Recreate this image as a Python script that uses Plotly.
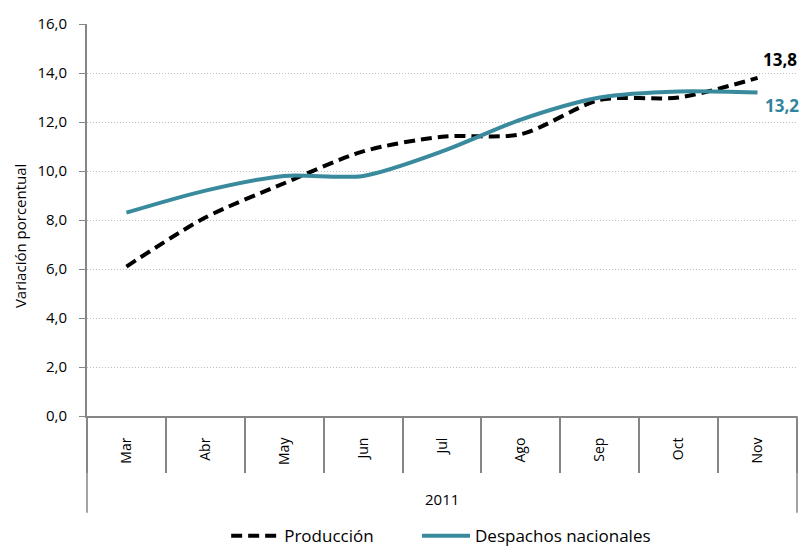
import plotly.graph_objects as go

# ---- data ----
meses = ["Mar", "Abr", "May", "Jun", "Jul", "Ago", "Sep", "Oct", "Nov"]
produccion = [6.1, 8.1, 9.5, 10.8, 11.4, 11.5, 12.9, 13.0, 13.8]
despachos = [8.3, 9.2, 9.8, 9.8, 10.8, 12.1, 13.0, 13.25, 13.2]
anio = "2011"

TEAL = "#3A8A9E"
TEAL_DARK = "#31849B"
GRAY = "#868686"
FONT = "'Open Sans', sans-serif"

fig = go.Figure()
fig.add_trace(go.Scatter(
    x=meses, y=produccion, name="Producción", mode="lines", legend="legend",
    line=dict(color="black", width=4, dash="11px,6px", shape="spline", smoothing=0.8),
))
fig.add_trace(go.Scatter(
    x=meses, y=despachos, name="Despachos nacionales", mode="lines", legend="legend2",
    line=dict(color=TEAL, width=4, shape="spline", smoothing=0.8),
))

# end-of-series labels
fig.add_annotation(x=meses[-1], y=produccion[-1], text="<b>13,8</b>", showarrow=False,
                   xanchor="left", yanchor="middle", xshift=3, yshift=18,
                   font=dict(size=17, color="black", family=FONT))
fig.add_annotation(x=meses[-1], y=despachos[-1], text="<b>13,2</b>", showarrow=False,
                   xanchor="left", yanchor="middle", xshift=5, yshift=-13,
                   font=dict(size=17, color=TEAL_DARK, family=FONT))

# y-axis title (placed like the original, a bit below the plot centre)
fig.add_annotation(x=0, y=0.459, xref="paper", yref="paper", xshift=-67,
                   text="Variación porcentual", textangle=-90, showarrow=False,
                   xanchor="center", yanchor="middle",
                   font=dict(size=15, color="black", family=FONT))

# year group label and outer group lines
fig.add_annotation(x=0.5, y=-0.212, xref="paper", yref="paper", text=anio, showarrow=False,
                   xanchor="center", yanchor="middle",
                   font=dict(size=15, color="black", family=FONT))
for xp in (0, 1):
    fig.add_shape(type="line", xref="paper", yref="paper", x0=xp, x1=xp, y0=0, y1=-0.247,
                  line=dict(color=GRAY, width=1.5))

leg = dict(orientation="h", xanchor="left", xref="container", yref="container",
           y=0.018, yanchor="middle", font=dict(size=17), itemwidth=48)
fig.update_layout(
    width=802, height=546,
    margin=dict(l=87, r=5, t=24, b=130),
    paper_bgcolor="white", plot_bgcolor="white",
    separators=",.",
    font=dict(family=FONT, size=14, color="black"),
    showlegend=True,
    legend=dict(leg, x=0.282),
    legend2=dict(leg, x=0.52),
)
fig.update_xaxes(
    type="category", tickson="boundaries", ticks="outside", ticklen=55,
    tickcolor=GRAY, tickwidth=1.5, tickangle=-90, ticklabelstandoff=14,
    showline=True, linecolor=GRAY, linewidth=2, showgrid=False, automargin=False,
    tickfont=dict(size=14), range=[-0.5, len(meses) - 0.5],
)
fig.update_yaxes(
    range=[0, 16], dtick=2, tickformat=".1f", automargin=False,
    showline=True, linecolor=GRAY, linewidth=2,
    ticks="outside", ticklen=6, tickcolor=GRAY, ticklabelstandoff=9,
    showgrid=True, gridcolor="#BDBDBD", griddash="1px,2px", gridwidth=1,
    tickfont=dict(size=15), zeroline=False,
)

fig.write_html("out.html", config={"displayModeBar": False},
               post_script="document.body.style.margin='0';")
